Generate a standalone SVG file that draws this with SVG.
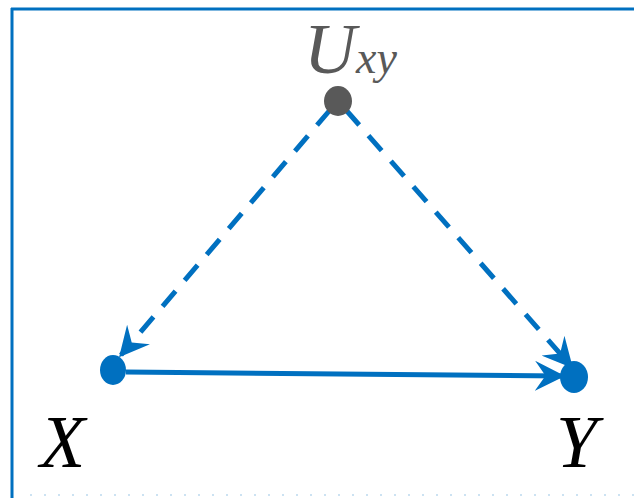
<svg xmlns="http://www.w3.org/2000/svg" width="634" height="498" viewBox="0 0 634 498">
<style>
.lbl{font-family:"Liberation Serif",serif;font-style:italic}
.edge{stroke:#0070c0;stroke-width:5;fill:none}
.dash{stroke-dasharray:20,14}
</style>
<defs>
<marker id="ah" viewBox="0 0 10 10" refX="9" refY="5" markerWidth="6" markerHeight="6" markerUnits="strokeWidth" orient="auto">
<path d="M0,0 L10,5 L0,10 L3.5,5 Z" fill="#0070c0"/>
</marker>
</defs>
<rect width="634" height="498" fill="#fff"/>
<g id="frame" stroke="#0070c0" fill="none">
<line x1="11" y1="9" x2="634" y2="9" stroke-width="3"/>
<line x1="12" y1="8" x2="12" y2="498" stroke-width="3"/>
<line x1="30" y1="495" x2="634" y2="495" stroke-width="1" stroke-dasharray="2,12" opacity="0.4"/>
</g>
<g id="connectors">
<line class="edge dash" x1="330" y1="110" x2="121" y2="355" marker-end="url(#ah)"/>
<line class="edge dash" x1="346" y1="110" x2="571" y2="366" marker-end="url(#ah)"/>
<line class="edge" x1="126" y1="372" x2="562" y2="376" marker-end="url(#ah)"/>
</g>
<g id="node-U">
<ellipse cx="338" cy="101" rx="14" ry="15" fill="#595959"/>
<text class="lbl" x="304" y="73" font-size="72" fill="#595959">U</text>
<text class="lbl" x="356" y="73" font-size="46" fill="#595959">xy</text>
</g>
<g id="node-X">
<ellipse cx="113" cy="370" rx="13" ry="15" fill="#0070c0"/>
<text class="lbl" x="40" y="467" font-size="74" fill="#000">X</text>
</g>
<g id="node-Y">
<ellipse cx="574" cy="377" rx="14" ry="16" fill="#0070c0"/>
<text class="lbl" x="556" y="467" font-size="74" fill="#000">Y</text>
</g>
</svg>
